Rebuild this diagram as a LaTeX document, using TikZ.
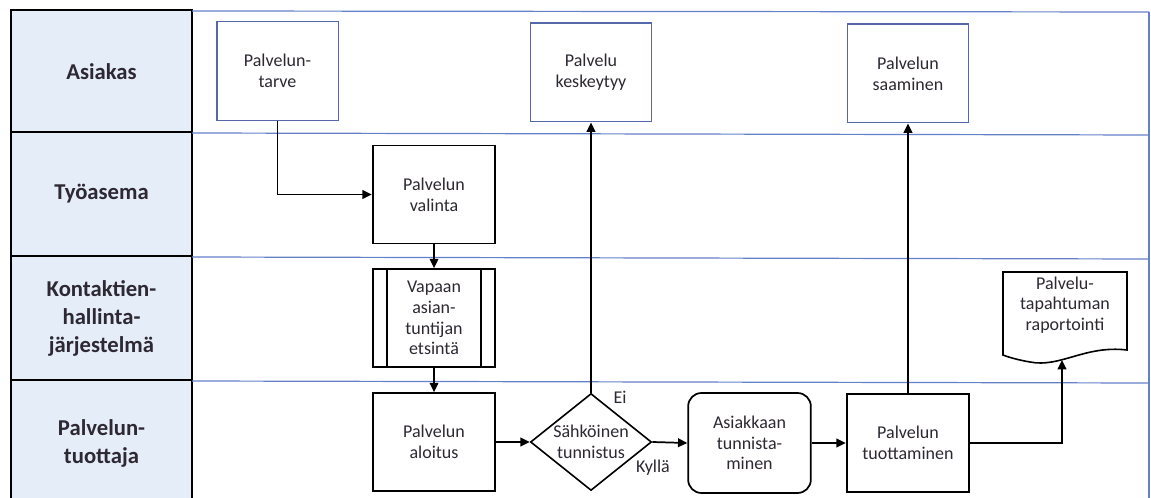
\documentclass[tikz,border=0pt]{standalone}
\usepackage{fontspec}
\setmainfont{Carlito}
\usetikzlibrary{shapes.geometric,arrows.meta}
\definecolor{lanefill}{RGB}{229,237,248}
\definecolor{laneline}{RGB}{100,128,200}
\definecolor{boxblue}{RGB}{85,105,170}
\definecolor{txt}{RGB}{45,40,50}
\begin{document}
\begin{tikzpicture}[x=0.75pt,y=-0.75pt,
  every node/.style={text=txt,font=\fontsize{13.5}{15.5}\selectfont,align=center},
  lanelabel/.style={font=\fontsize{17}{21}\selectfont\bfseries},
  proc/.style={draw=black,line width=1.3pt,minimum width=92pt,minimum height=73.5pt,inner sep=0pt},
  cust/.style={draw=boxblue,line width=1pt,minimum width=91pt,minimum height=74pt,inner sep=0pt},
  rproc/.style={proc,rounded corners=10pt,minimum height=75pt},
  decision/.style={draw=black,line width=1.2pt,diamond,minimum width=90.75pt,minimum height=72.75pt,inner sep=0pt},
  flow/.style={draw=black,line width=1.3pt,-{Triangle[length=7pt,width=6.5pt]}},
  lbl/.style={font=\fontsize{13.5}{15.5}\selectfont}
]
\useasboundingbox (0,0) rectangle (1151,498);
\fill[white] (0,0) rectangle (1151,498);
% lane header column
\fill[lanefill] (11,10) rectangle (192,498);
\draw[black,line width=1.2pt] (11,498) -- (11,10) -- (192,10) -- (192,498);
\draw[black,line width=1.2pt] (11,132) -- (192,132);
\draw[black,line width=1.2pt] (11,256) -- (192,256);
\draw[black,line width=1.2pt] (11,380) -- (192,380);
% lane lines
\draw[laneline,line width=0.9pt] (192,11) -- (1149,12);
\draw[laneline,line width=0.9pt] (192,133) -- (1149,135);
\draw[laneline,line width=0.9pt] (192,257) -- (1149,259);
\draw[laneline,line width=0.9pt] (192,381) -- (1149,383);
\draw[laneline,line width=0.9pt] (1149,12) -- (1149,498);
% lane labels
\node[lanelabel] (l1) at (101.5,72) {Asiakas};
\node[lanelabel] (l2) at (101.5,194) {Työasema};
\node[lanelabel] (l3) at (101.5,318) {Kontaktien-\\hallinta-\\järjestelmä};
\node[lanelabel] (l4) at (101.5,443) {Palvelun-\\tuottaja};
% nodes
\node[cust] (tarve) at (277.5,71) {Palvelun-\\tarve};
\node[cust] (kesk) at (591,72.5) {Palvelu\\keskeytyy};
\node[cust] (saam) at (908,73.5) {Palvelun\\saaminen};
\node[proc] (val) at (434,194.5) {Palvelun\\valinta};
\node[proc] (vap) at (434,318) {Vapaan\\asian-\\tuntijan\\etsintä};
\draw[line width=1.3pt] ([xshift=11.5pt]vap.north west) -- ([xshift=11.5pt]vap.south west);
\draw[line width=1.3pt] ([xshift=-11.5pt]vap.north east) -- ([xshift=-11.5pt]vap.south east);
\node[proc] (alo) at (434,442) {Palvelun\\aloitus};
\node[decision] (dia) at (591,442) {};
\node (diatxt) at (591,442) {Sähköinen\\tunnistus};
\node[rproc] (asi) at (749.5,443) {Asiakkaan\\tunnista-\\minen};
\node[proc] (tuo) at (908,443) {Palvelun\\tuottaminen};
% document shape
\draw[black,line width=1.2pt] (1003,272) -- (1127,272) -- (1127,350)
  .. controls (1085,345) and (1060,368) .. (1030,362)
  .. controls (1018,360) and (1008,357) .. (1003,355) -- cycle;
\node (doc) at (1065,305) {Palvelu-\\tapahtuman\\raportointi};
\coordinate (docin) at (1062,360);
% labels
\node[lbl] (ei) at (620,397) {Ei};
\node[lbl] (kyl) at (653,468) {Kyllä};
% connectors
\draw[flow] (tarve.south) |- (val.west);
\draw[flow] (val.south) -- (vap.north);
\draw[flow] (vap.south) -- (alo.north);
\draw[flow] (alo.east) -- (dia.west);
\draw[flow] (dia.north) -- (kesk.south);
\draw[flow] (dia.east) -- (asi.west);
\draw[flow] (asi.east) -- (tuo.west);
\draw[flow] (tuo.north) -- (saam.south);
\draw[flow] (tuo.east) -| (docin);
\end{tikzpicture}
\end{document}
